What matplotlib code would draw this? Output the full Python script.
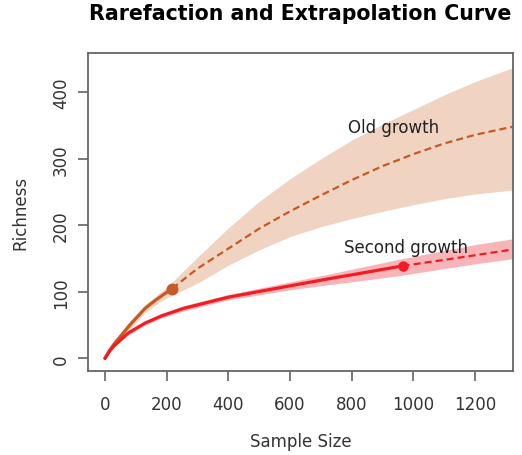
import matplotlib
matplotlib.use('Agg')
import matplotlib.pyplot as plt

# Old growth: observed (rarefaction) and extrapolation
old_obs_x = [0, 15, 32, 50, 75, 100, 130, 160, 184, 218]
old_obs_y = [0, 12, 23, 33, 47, 60, 75, 86, 94, 105]
old_ext_x = [218, 300, 400, 500, 600, 700, 800, 900, 1000, 1100, 1200, 1340]
old_ext_y = [105, 135, 165, 195, 221, 245, 268, 289, 307, 323, 336, 350]
old_band_x = [0, 32, 75, 130, 184, 218, 300, 400, 500, 600, 700, 800, 900, 1000, 1100, 1200, 1340]
old_band_hi = [0, 26, 53, 81, 101, 115, 152, 196, 236, 270, 300, 328, 352, 374, 396, 416, 440]
old_band_lo = [0, 20, 41, 69, 87, 95, 113, 140, 163, 183, 198, 210, 221, 231, 240, 247, 254]

# Second growth
sec_obs_x = [0, 15, 32, 75, 130, 184, 254, 400, 600, 730, 800, 965]
sec_obs_y = [0, 11, 20, 38, 53, 64, 75, 92, 109, 120, 125.5, 139]
sec_ext_x = [965, 1100, 1200, 1340]
sec_ext_y = [139, 148, 155, 165]
sec_band_x = [0, 32, 75, 130, 184, 254, 400, 600, 730, 800, 965, 1100, 1200, 1340]
sec_band_hi = [0, 22, 41, 56, 67, 79, 96, 115, 127, 134, 150, 162, 171, 181]
sec_band_lo = [0, 18, 35, 50, 61, 71, 88, 103, 111, 115, 125, 135, 142, 151]

xticks = [0, 200, 400, 600, 800, 1000, 1200]
yticks = [0, 100, 200, 300, 400]

old_col, old_fill = '#C65A26', '#F0D3C0'
sec_col, sec_fill = '#F41C22', '#F8B5B8'
txt = '#333333'

fig = plt.figure(figsize=(5.22, 4.56), dpi=100)
ax = fig.add_axes([88/522, 1-372/456, 425/522, 318/456])

ax.fill_between(old_band_x, old_band_lo, old_band_hi, color=old_fill, lw=0)
ax.fill_between(sec_band_x, sec_band_lo, sec_band_hi, color=sec_fill, lw=0)

ax.plot(old_obs_x, old_obs_y, color=old_col, lw=2.3, solid_capstyle='round')
ax.plot(old_ext_x, old_ext_y, color=old_col, lw=1.6, dashes=(3.2, 1.8))
ax.plot(sec_obs_x, sec_obs_y, color=sec_col, lw=2.3, solid_capstyle='round')
ax.plot(sec_ext_x, sec_ext_y, color=sec_col, lw=1.6, dashes=(3.2, 1.8))
ax.plot(old_obs_x[-1], old_obs_y[-1], 'o', color=old_col, ms=7.5)
ax.plot(sec_obs_x[-1], sec_obs_y[-1], 'o', color=sec_col, ms=6.5)

ax.text(937, 348, 'Old growth', ha='center', va='center', fontsize=12, color='#222222')
ax.text(976, 167, 'Second growth', ha='center', va='center', fontsize=12, color='#222222')

ax.set_xlim(-55, 1323)
ax.set_ylim(-19, 459)
ax.set_xticks(xticks)
ax.set_yticks(yticks)
ax.tick_params(direction='out', length=7, width=1.1, color='#555555',
               labelcolor=txt, labelsize=12)
ax.tick_params(axis='x', pad=10)
ax.tick_params(axis='y', pad=6)
for lab in ax.get_yticklabels():
    lab.set_rotation(90)
    lab.set_va('center')
for s in ax.spines.values():
    s.set_color('#666666')
    s.set_linewidth(1.3)

ax.set_xlabel('Sample Size', fontsize=12, color=txt, va='center')
ax.xaxis.set_label_coords(0.5, -0.219)
ax.set_ylabel('Richness', fontsize=12, color=txt, va='center')
ax.yaxis.set_label_coords(-0.16, 0.5)

fig.text(300/522, 1-14/456, 'Rarefaction and Extrapolation Curve', ha='center',
         va='center', fontsize=14.8, fontweight='bold', color='black')

plt.savefig('out.png', dpi=100)
